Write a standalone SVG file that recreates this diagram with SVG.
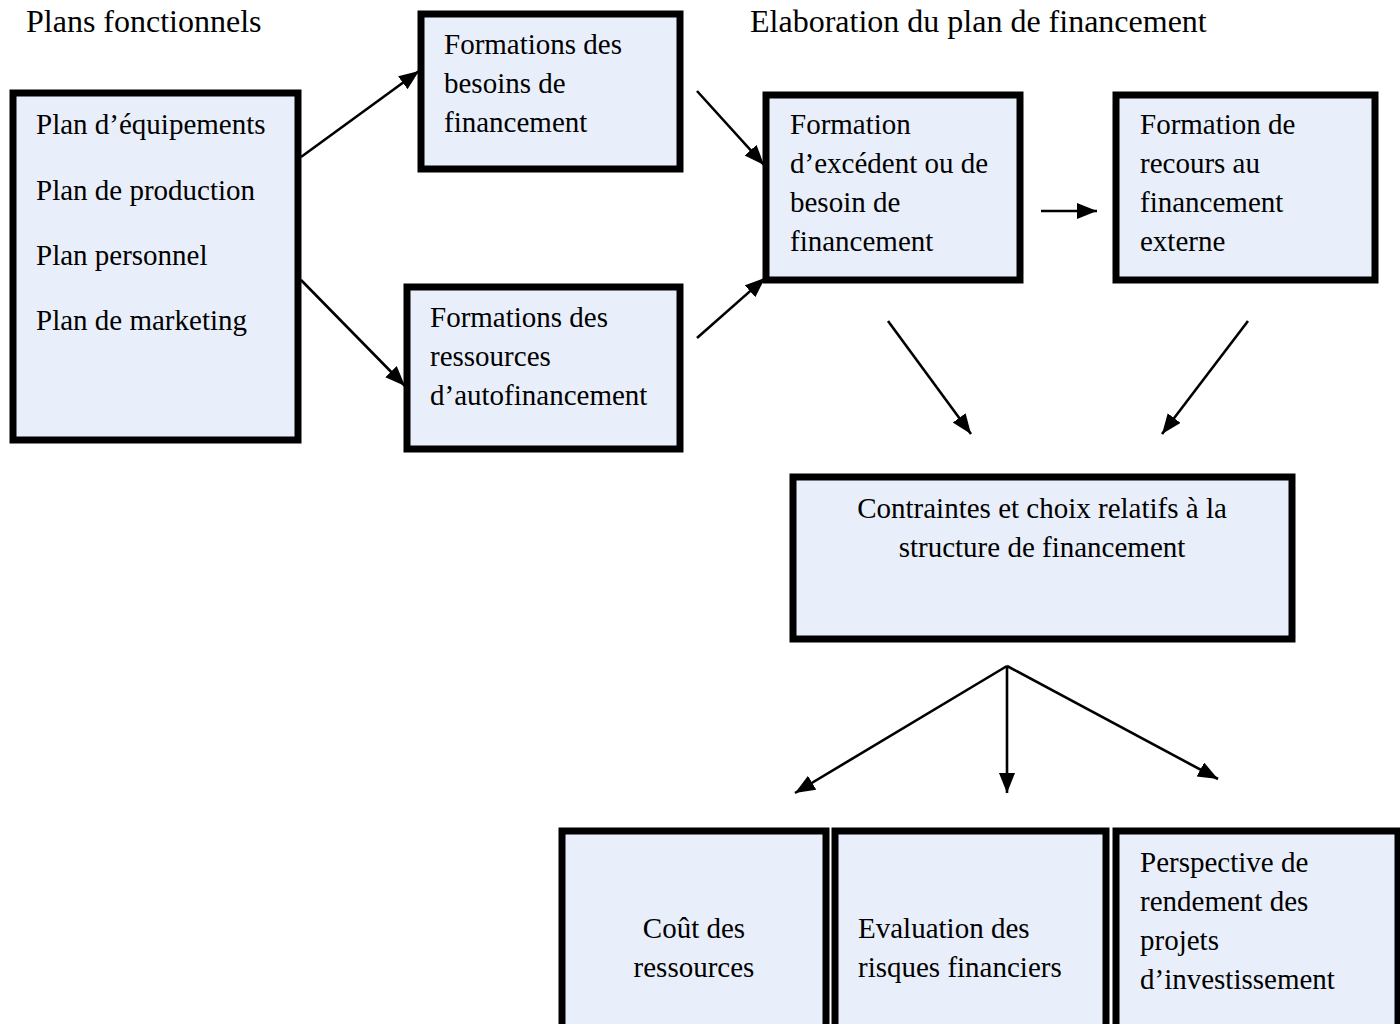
<svg xmlns="http://www.w3.org/2000/svg" width="1400" height="1024" viewBox="0 0 1400 1024">
<style>
.box{fill:#E9EFFA;stroke:#000;stroke-width:7}
.t{font-family:"Liberation Serif","Times New Roman",serif;font-size:29px;fill:#000}
.title{font-family:"Liberation Serif","Times New Roman",serif;font-size:32px;fill:#000}
.c{text-anchor:middle}
.ln{stroke:#000;stroke-width:2.6;fill:none;marker-end:url(#ah)}
</style>
<defs>
<marker id="ah" markerUnits="userSpaceOnUse" markerWidth="22" markerHeight="18" refX="20" refY="8" orient="auto">
<path d="M0,0 L20,8 L0,16 z" fill="#000"/>
</marker>
</defs>
<rect width="1400" height="1024" fill="#fff"/>
<g id="titles">
<text class="title" x="26" y="32">Plans fonctionnels</text>
<text class="title" x="750" y="32">Elaboration du plan de financement</text>
</g>
<g id="plans">
<rect class="box" x="13" y="93" width="285" height="347"/>
<text class="t" x="36" y="134">Plan d’équipements</text>
<text class="t" x="36" y="200">Plan de production</text>
<text class="t" x="36" y="265">Plan personnel</text>
<text class="t" x="36" y="330">Plan de marketing</text>
</g>
<g id="besoins">
<rect class="box" x="421" y="14" width="259" height="155"/>
<text class="t" x="444" y="54">Formations des</text>
<text class="t" x="444" y="93">besoins de</text>
<text class="t" x="444" y="132">financement</text>
</g>
<g id="ressources">
<rect class="box" x="407" y="287" width="273" height="162"/>
<text class="t" x="430" y="327">Formations des</text>
<text class="t" x="430" y="366">ressources</text>
<text class="t" x="430" y="405">d’autofinancement</text>
</g>
<g id="excedent">
<rect class="box" x="766" y="95" width="254" height="185"/>
<text class="t" x="790" y="134">Formation</text>
<text class="t" x="790" y="173">d’excédent ou de</text>
<text class="t" x="790" y="212">besoin de</text>
<text class="t" x="790" y="251">financement</text>
</g>
<g id="recours">
<rect class="box" x="1116" y="95" width="259" height="185"/>
<text class="t" x="1140" y="134">Formation de</text>
<text class="t" x="1140" y="173">recours au</text>
<text class="t" x="1140" y="212">financement</text>
<text class="t" x="1140" y="251">externe</text>
</g>
<g id="contraintes">
<rect class="box" x="793" y="477" width="499" height="162"/>
<text class="t c" x="1042" y="518">Contraintes et choix relatifs à la</text>
<text class="t c" x="1042" y="557">structure de financement</text>
</g>
<g id="cout">
<rect class="box" x="562" y="831" width="264" height="210"/>
<text class="t c" x="694" y="938">Coût des</text>
<text class="t c" x="694" y="977">ressources</text>
</g>
<g id="risques">
<rect class="box" x="835" y="831" width="271" height="210"/>
<text class="t" x="858" y="938">Evaluation des</text>
<text class="t" x="858" y="977">risques financiers</text>
</g>
<g id="rendement">
<rect class="box" x="1116" y="831" width="282" height="210"/>
<text class="t" x="1140" y="872">Perspective de</text>
<text class="t" x="1140" y="911">rendement des</text>
<text class="t" x="1140" y="950">projets</text>
<text class="t" x="1140" y="989">d’investissement</text>
</g>
<g id="connectors">
<line class="ln" x1="301" y1="157" x2="419" y2="71"/>
<line class="ln" x1="301" y1="280" x2="405" y2="386"/>
<line class="ln" x1="697" y1="91" x2="764" y2="165"/>
<line class="ln" x1="697" y1="338" x2="765" y2="278"/>
<line class="ln" x1="1041" y1="211" x2="1097" y2="211"/>
<line class="ln" x1="888" y1="321" x2="971" y2="434"/>
<line class="ln" x1="1248" y1="321" x2="1162" y2="434"/>
<line class="ln" x1="1007" y1="666" x2="795" y2="793"/>
<line class="ln" x1="1007" y1="666" x2="1007" y2="793"/>
<line class="ln" x1="1007" y1="666" x2="1218" y2="779"/>
</g>
</svg>
